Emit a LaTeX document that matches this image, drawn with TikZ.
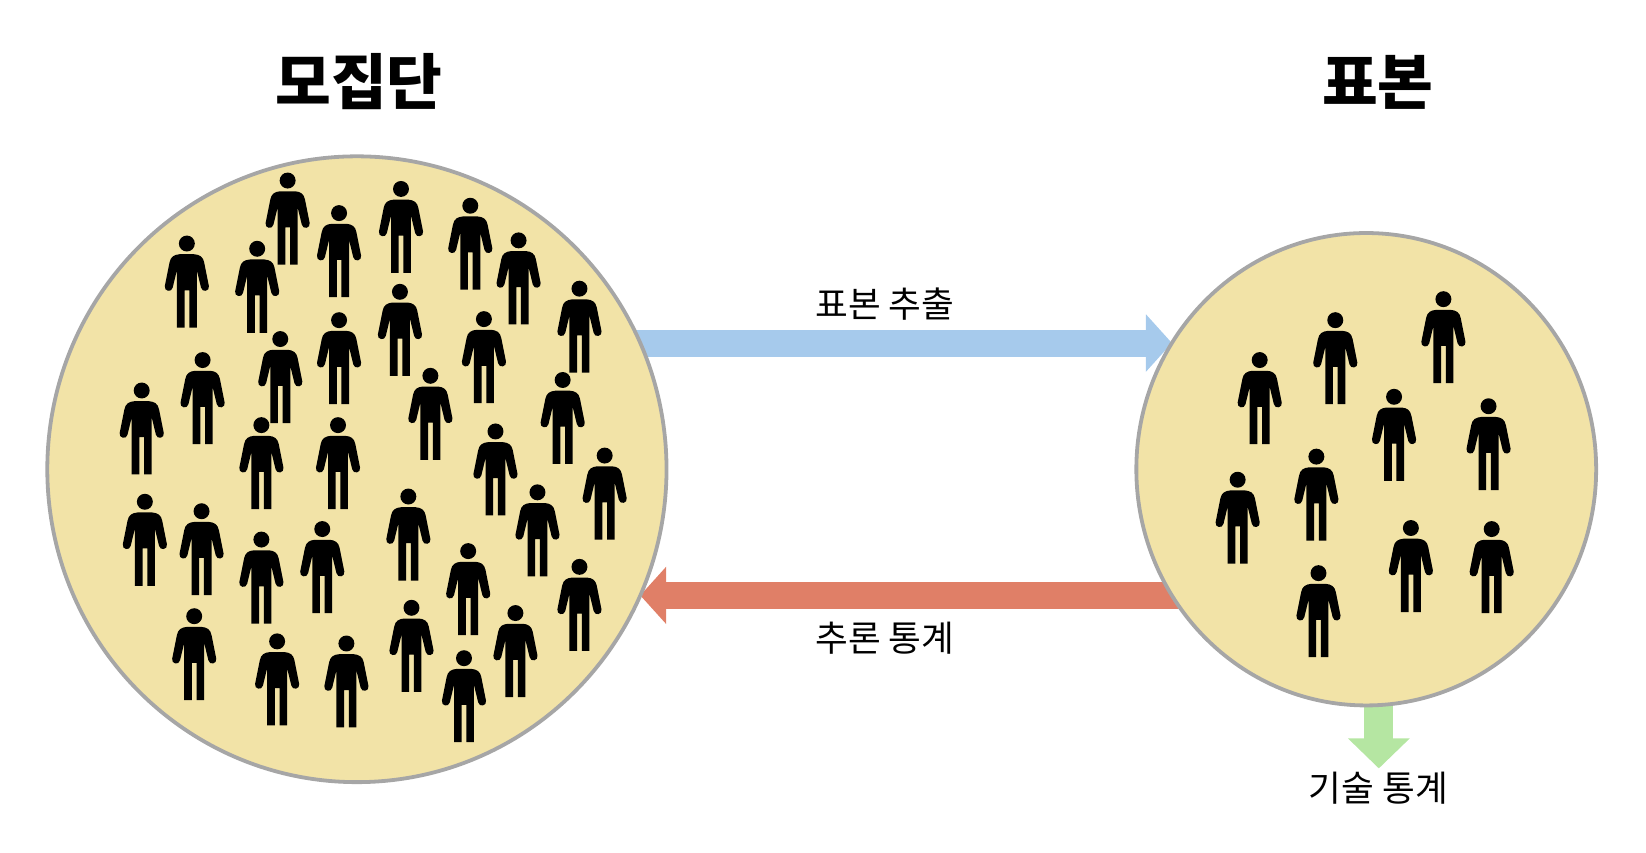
\documentclass[tikz,border=0pt]{standalone}
\usepackage{fontspec}
\setmainfont{Noto Sans CJK KR}
\usetikzlibrary{arrows.meta,backgrounds,shapes.geometric}
\definecolor{groupfill}{HTML}{F2E3A7}
\definecolor{groupline}{HTML}{A6A6A6}
\definecolor{samplearrow}{HTML}{A6CAEC}
\definecolor{inferarrow}{HTML}{E07F67}
\definecolor{describearrow}{HTML}{B5E6A2}
\tikzstyle{group} = [ellipse, draw=groupline, fill=groupfill, line width=1.9pt,
    inner sep=0pt, outer sep=0pt]
\tikzstyle{title} = [font=\fontsize{30.3}{34}\selectfont\bfseries]
\tikzstyle{label} = [font=\fontsize{17.8}{20}\selectfont]
\tikzstyle{flow} = [line width=13.5pt, -{Triangle[length=13pt,width=28pt]}]
\tikzstyle{flowdown} = [line width=14.5pt, -{Triangle[length=15pt,width=30pt]}]
\tikzset{
  person/.pic={
    \fill (0,0) circle [radius=7.6];
    \fill (-7,10.2) .. controls (-12,10.6) and (-15.5,12.5) .. (-16.5,18) -- (-21,40.5)
      .. controls (-22,45.5) and (-14.5,47) .. (-13.5,42) -- (-9.5,25.5) -- (-9.5,80)
      -- (-2.2,80) -- (-2.2,44.5) -- (2.3,44.5) -- (2.3,80) -- (9.5,80) -- (9.5,25.5)
      -- (13.5,42) .. controls (14.5,47) and (22,45.5) .. (21,40.5) -- (16.5,18)
      .. controls (15.5,12.5) and (12,10.6) .. (7,10.2) -- cycle;
  }
}
\begin{document}
\begin{tikzpicture}
[x=0.52485pt, y=-0.52485pt, node distance=193.6pt]
    \useasboundingbox (0,0) rectangle (1568,811.7);

    % Place nodes
    \node [group, minimum width=309.6pt, minimum height=312.9pt] (pop) at (340,447) {};
    \node [group, minimum width=229.9pt, minimum height=236.2pt] (sam) at (1301.5,447) {};
    \node [title, above of=pop, xshift=1pt] (poptitle) {모집단};
    \node [title, above of=sam, xshift=5.8pt] (samtitle) {표본};
    \node [label] (samplelabel) at (843,290) {표본 추출};
    \node [label] (inferlabel) at (843,608) {추론 통계};
    \node [label] (describelabel) at (1313,751) {기술 통계};
    \coordinate (describetip) at (1313.5,732);

    % Place people
    \foreach \hx/\hy in {274/172, 323/203, 382/180, 448/196, 494/229, 178/232, 245/237,
        552/275, 381/278, 323/305, 461/304, 267/323, 193/343, 135/372, 410/358, 536/362,
        249/405, 322/405, 472/411, 576/434, 512/469, 138/478, 192/487, 389/473, 249/514,
        307/504, 446/525, 552/540, 185/587, 392/579, 491/584, 264/611, 330/613, 442/627}
      \pic at (\hx,\hy) {person};
    \foreach \hx/\hy in {1375/285, 1272/305, 1200/343, 1328/378, 1418/387, 1254/435,
        1179/457, 1344/503, 1421/504, 1256/546}
      \pic at (\hx,\hy) {person};

    % Draw edges
    \begin{scope}[on background layer]
      \draw [flow, samplearrow] (pop.center |- sam.147.05) -- (sam.147.05);
      \draw [flow, inferarrow] (sam.center |- pop.-24.4) -- (pop.-24.4);
      \draw [flowdown, describearrow] (sam.south -| describetip) -- (describetip);
    \end{scope}
\end{tikzpicture}
\end{document}
